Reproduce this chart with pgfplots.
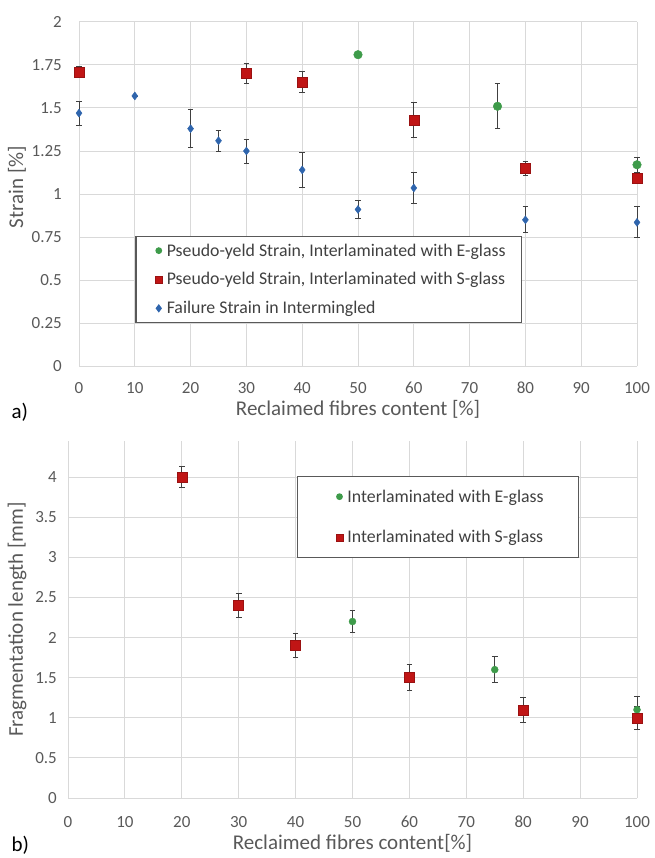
\documentclass[border=0pt]{standalone}
\usepackage{fontspec}
\setmainfont{Carlito}
\usepackage{pgfplots}
\pgfplotsset{compat=1.18}
\definecolor{gEg}{HTML}{3E9B4A}
\definecolor{rSg}{HTML}{C01515}
\definecolor{bIn}{HTML}{2F65AD}
\definecolor{txt}{HTML}{595959}
\definecolor{lgt}{HTML}{404040}
\definecolor{grd}{HTML}{D9D9D9}
\definecolor{ebar}{HTML}{404040}
\pgfplotsset{
  excel/.style={
    scale only axis, clip=false,
    xmin=0, xmax=100, xtick={0,10,...,100},
    grid=major, major grid style={draw=grd, line width=1pt},
    axis line style={draw=none},
    major tick length=0pt,
    /pgf/number format/assume math mode=true,
    tick label style={font=\fontsize{17}{20}\selectfont, text=txt},
    xticklabel style={anchor=center},
    yticklabel style={anchor=east, inner sep=0pt},
    label style={font=\fontsize{21}{24}\selectfont, text=txt},
    legend cell align=left,
    error bars/error bar style={draw=ebar, line width=0.9pt},
    error bars/error mark options={draw=ebar, rotate=90, mark size=2.8pt, line width=0.9pt},
  },
  limg/.style={legend image code/.code={\path[draw=none,fill=none] (-9pt,0pt) (6pt,0pt); \draw[##1] plot coordinates {(0pt,0pt)};}},
}
\begin{document}
\begin{tikzpicture}
\path[use as bounding box] (0pt,-858pt) rectangle (654pt,0pt);
% ---------- a) ----------
\begin{axis}[excel,
  at={(79pt,-366pt)}, anchor=south west,
  width=558pt, height=344pt,
  ymin=0, ymax=2, ytick={0,0.25,0.5,0.75,1,1.25,1.5,1.75,2},
  yticklabels={0,0.25,0.5,0.75,1,1.25,1.5,1.75,2},
  xticklabel style={yshift=-22pt},
  yticklabel style={xshift=-17pt},
  xlabel={Reclaimed fibres content [\%]},
  ylabel={Strain [\%]},
  x label style={at={(axis description cs:0.5,-0.125)}, anchor=center},
  y label style={at={(axis description cs:-0.111,0.52)}, anchor=center},
  legend style={at={(rel axis cs:0.1004,0.378)}, anchor=north west,
    draw=txt, line width=1.5pt, font=\fontsize{17.8}{21}\selectfont, text=lgt,
    inner xsep=14pt, inner ysep=5pt, row sep=11pt},
]
\addplot[only marks, mark=*, mark size=4.3pt, color=gEg, limg,
  legend image post style={mark size=2.6pt},
  error bars/.cd, y dir=both, y explicit]
  table[x=x, y=y, y error=e] {
x y e
50 1.81 0
75 1.51 0.13
100 1.17 0.045
};
\addlegendentry{Pseudo-yeld Strain, Interlaminated with E-glass}
\addplot[only marks, mark=square*, mark size=5pt, color=rSg, limg,
  mark options={fill=rSg, draw=rSg!80!black, line width=0.5pt},
  legend image post style={mark size=3.3pt},
  error bars/.cd, y dir=both, y explicit]
  table[x=x, y=y, y error=e] {
x y e
0 1.71 0.03
30 1.70 0.06
40 1.65 0.06
60 1.43 0.10
80 1.15 0.04
100 1.09 0.02
};
\addlegendentry{Pseudo-yeld Strain, Interlaminated with S-glass}
\addplot[only marks, mark=diamond*, mark size=4pt, color=bIn, limg,
  legend image post style={mark size=3pt},
  error bars/.cd, y dir=both, y explicit]
  table[x=x, y=y, y error=e] {
x y e
0 1.47 0.07
10 1.57 0
20 1.38 0.11
25 1.31 0.06
30 1.25 0.07
40 1.14 0.10
50 0.91 0.055
60 1.035 0.09
80 0.85 0.075
100 0.835 0.09
};
\addlegendentry{Failure Strain in Intermingled}
\end{axis}
\node[anchor=base west, font=\fontsize{21}{24}\selectfont] at (8pt,-418pt) {a)};
% ---------- b) ----------
\begin{axis}[excel,
  at={(68pt,-798pt)}, anchor=south west,
  width=569pt, height=357pt,
  ymin=0, ymax=4.45, ytick={0,0.5,1,1.5,2,2.5,3,3.5,4},
  yticklabels={0,0.5,1,1.5,2,2.5,3,3.5,4},
  xticklabel style={yshift=-24pt},
  yticklabel style={xshift=-11pt},
  xlabel={Reclaimed fibres content[\%]},
  ylabel={Fragmentation length [mm]},
  x label style={at={(axis description cs:0.5,-0.126)}, anchor=center},
  y label style={at={(axis description cs:-0.0896,0.5)}, anchor=center},
  legend style={at={(rel axis cs:0.402,0.902)}, anchor=north west,
    draw=txt, line width=1.5pt, font=\fontsize{17.8}{21}\selectfont, text=lgt,
    inner xsep=33pt, inner ysep=11pt, row sep=23pt},
]
\addplot[only marks, mark=*, mark size=3.5pt, color=gEg, limg,
  legend image post style={mark size=2.6pt},
  error bars/.cd, y dir=both, y explicit]
  table[x=x, y=y, y error=e] {
x y e
50 2.20 0.135
75 1.60 0.16
100 1.10 0.16
};
\addlegendentry{Interlaminated with E-glass}
\addplot[only marks, mark=square*, mark size=5pt, color=rSg, limg,
  mark options={fill=rSg, draw=rSg!80!black, line width=0.5pt},
  legend image post style={mark size=3.3pt},
  error bars/.cd, y dir=both, y explicit]
  table[x=x, y=y, y error=e] {
x y e
20 4.00 0.135
30 2.40 0.15
40 1.90 0.147
60 1.50 0.165
80 1.10 0.153
100 1.00 0.14
};
\addlegendentry{Interlaminated with S-glass}
\end{axis}
\node[anchor=base west, font=\fontsize{21}{24}\selectfont] at (8pt,-851pt) {b)};
\end{tikzpicture}
\end{document}
